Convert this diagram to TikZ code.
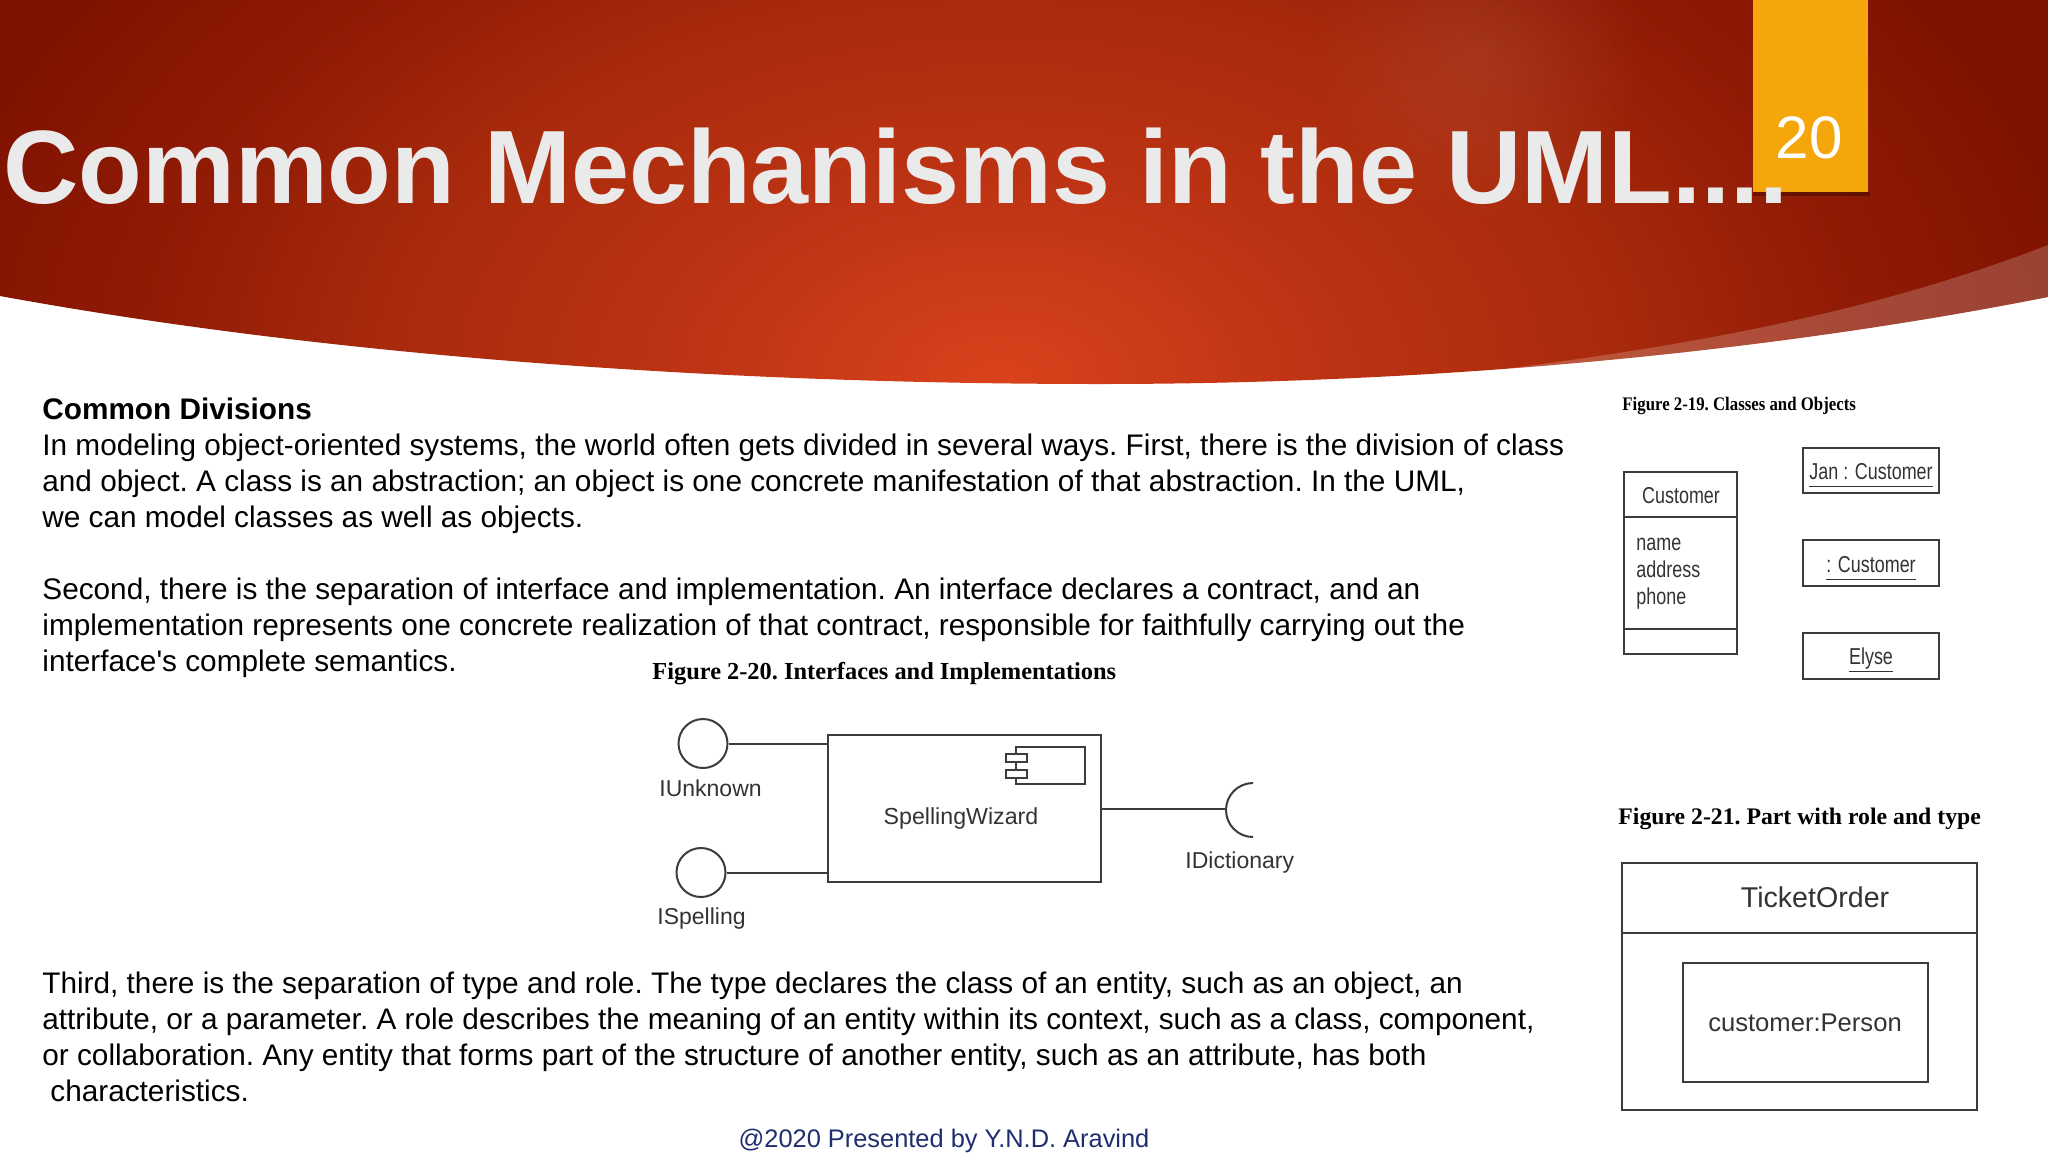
\documentclass[tikz,border=0pt]{standalone}
\usepackage{fontspec}
\setmainfont{Liberation Sans}
\newfontfamily\serifcap{Liberation Serif}
\newfontfamily\serifnarrow[FakeStretch=0.875]{Liberation Serif}
\newfontfamily\sansnarrow[FakeStretch=0.78]{Liberation Sans}
\usetikzlibrary{fadings}
\definecolor{glowa}{HTML}{D9431C}
\definecolor{glowb}{HTML}{BE3414}
\definecolor{glowc}{HTML}{A82A0C}
\definecolor{glowd}{HTML}{921C06}
\definecolor{glowe}{HTML}{7F1200}
\definecolor{tabcolor}{HTML}{F5A60A}
\definecolor{titlecolor}{HTML}{EAEAEA}
\definecolor{footcolor}{HTML}{1F2E6E}
\definecolor{umlline}{HTML}{3C3C3C}
\definecolor{umltext}{HTML}{333333}
\pgfdeclareradialshading{bannerglow}{\pgfpointorigin}{color(0bp)=(glowa); color(7bp)=(glowb); color(14bp)=(glowc); color(19bp)=(glowd); color(25bp)=(glowe); color(50bp)=(glowe)}
\tikzfading[name=softglow, inner color=transparent!0, outer color=transparent!100]
\newcommand{\objname}[1]{\underline{\vphantom{y}#1}}
\tikzset{
  bodyline/.style={anchor=base west, inner sep=0pt, font=\frenchspacing\fontsize{14.88}{17}\selectfont},
  figcap/.style={anchor=base west, inner sep=0pt, font=\frenchspacing\serifcap\bfseries\fontsize{#1}{12}\selectfont},
  umlbox/.style={draw=umlline, line width=1pt, inner sep=0pt},
  umllabel/.style={anchor=base, inner sep=0pt, text=umltext, font=\fontsize{#1}{12}\selectfont},
  narrowlabel/.style={anchor=base, inner sep=0pt, text=umltext, font=\sansnarrow\fontsize{11.5}{12}\selectfont},
  iface/.style={circle, draw=umlline, line width=1pt, minimum size=24.5pt, inner sep=0pt},
  umlwire/.style={draw=umlline, line width=1pt}
}
\begin{document}
\begin{tikzpicture}[x=0.5pt, y=-0.5pt]
  \useasboundingbox (0,0) rectangle (2048,1152);
  \begin{scope}
    \clip (0,0) -- (2048,0) -- (2048,297) .. controls (1780,350) and (1450,384) .. (1100,384)
      .. controls (750,384) and (350,360) .. (0,296) -- cycle;
    \shade[shading=bannerglow] (-100,-316) rectangle (2100,1084);
    \fill[white, opacity=0.08, path fading=softglow] (1480,55) circle (170);
    \fill[white, opacity=0.2] (2048,245) .. controls (1880,310) and (1700,345) .. (1480,372)
      -- (1480,400) -- (2048,400) -- cycle;
  \end{scope}
  \fill[black, opacity=0.3] (1753,192) rectangle (1870,196);
  \node[fill=tabcolor, minimum width=57.5pt, minimum height=96pt, inner sep=0pt] (tab) at (1810.5,96) {};
  \node[anchor=base, inner sep=0pt, text=white, font=\fontsize{30}{36}\selectfont] (pagenum) at (1809,158) {20};
  \node[anchor=base west, inner sep=0pt, text=titlecolor, font=\bfseries\fontsize{52.15}{60}\selectfont] (title) at (3,203) {Common Mechanisms in the UML....};

  \node[bodyline] (lineA) at (42,419) {\bfseries Common Divisions};
  \node[bodyline] (lineB) at (42,455) {In modeling object-oriented systems, the world often gets divided in several ways. First, there is the division of class};
  \node[bodyline] (lineC) at (42,491) {and object. A class is an abstraction; an object is one concrete manifestation of that abstraction. In the UML,};
  \node[bodyline] (lineD) at (42,527) {we can model classes as well as objects.};
  \node[bodyline] (lineE) at (42,599) {Second, there is the separation of interface and implementation. An interface declares a contract, and an};
  \node[bodyline] (lineF) at (42,635) {implementation represents one concrete realization of that contract, responsible for faithfully carrying out the};
  \node[bodyline] (lineG) at (42,671) {interface\textquotesingle s complete semantics.};
  \node[bodyline] (lineH) at (42,993) {Third, there is the separation of type and role. The type declares the class of an entity, such as an object, an};
  \node[bodyline] (lineI) at (42,1029) {attribute, or a parameter. A role describes the meaning of an entity within its context, such as a class, component,};
  \node[bodyline] (lineJ) at (42,1065) {or collaboration. Any entity that forms part of the structure of another entity, such as an attribute, has both};
  \node[bodyline] (lineK) at (50,1101) {characteristics.};
  \node[anchor=base, inner sep=0pt, text=footcolor, font=\frenchspacing\fontsize{12.7}{16}\selectfont] (footer) at (944,1147) {@2020 Presented by Y.N.D. Aravind};

  \node[figcap=12.2] (capA) at (652,679) {Figure 2-20. Interfaces and Implementations};
  \node[umlbox, minimum width=136.5pt, minimum height=73.5pt] (wizard) at (964.5,808.5) {};
  \node[umlbox, minimum width=34.5pt, minimum height=18.5pt] (mini) at (1050.5,765.5) {};
  \node[umlbox, fill=white, minimum width=10.5pt, minimum height=4pt] (miniA) at (1016.5,758) {};
  \node[umlbox, fill=white, minimum width=10.5pt, minimum height=4pt] (miniB) at (1016.5,773.5) {};
  \node[umllabel=11.6] (wizardname) at (961,824) {SpellingWizard};
  \node[iface] (unknown) at (703,743.5) {};
  \node[iface] (spelling) at (701,872.5) {};
  \draw[umlwire] (unknown.east) -- (unknown.east -| wizard.west);
  \draw[umlwire] (spelling.east) -- (spelling.east -| wizard.west);
  \node[umllabel=11.5, anchor=base west] (unknownname) at (659,796) {IUnknown};
  \node[umllabel=11.5, anchor=base west] (spellingname) at (657,924) {ISpelling};
  \coordinate (socket) at (1227,809);
  \draw[umlwire] (wizard.east |- socket) -- (socket);
  \draw[umlwire] (1253,783) arc[start angle=-90, end angle=-270, radius=27];
  \node[umllabel=11.5, anchor=base west] (dictionaryname) at (1185,868) {IDictionary};

  \node[anchor=base west, inner sep=0pt, font=\frenchspacing\serifnarrow\bfseries\fontsize{9.6}{12}\selectfont] (capB) at (1622,410) {Figure 2-19. Classes and Objects};
  \node[umlbox, minimum width=56.5pt, minimum height=22.5pt] (classname) at (1680.5,494.5) {};
  \node[umlbox, minimum width=56.5pt, minimum height=56pt] (classattrs) at (1680.5,573) {};
  \node[umlbox, minimum width=56.5pt, minimum height=12.5pt] (classops) at (1680.5,641.5) {};
  \node[narrowlabel] (classtext) at (1681,503) {Customer};
  \node[narrowlabel, anchor=base west] (attrA) at (1636,550) {name};
  \node[narrowlabel, anchor=base west] (attrB) at (1636,577) {address};
  \node[narrowlabel, anchor=base west] (attrC) at (1636,604) {phone};
  \node[umlbox, minimum width=68pt, minimum height=22.5pt] (objA) at (1871,470.5) {};
  \node[umlbox, minimum width=68pt, minimum height=23pt] (objB) at (1871,563) {};
  \node[umlbox, minimum width=68pt, minimum height=23pt] (objC) at (1871,656) {};
  \node[narrowlabel] (objAtext) at (1871,479) {\objname{Jan : Customer}};
  \node[narrowlabel] (objBtext) at (1871,572) {\objname{: Customer}};
  \node[narrowlabel] (objCtext) at (1871,664) {\objname{Elyse}};

  \node[figcap=11.87] (capC) at (1618,824) {Figure 2-21. Part with role and type};
  \node[umlbox, minimum width=177.5pt, minimum height=35pt] (ordertop) at (1799.5,898) {};
  \node[umlbox, minimum width=177.5pt, minimum height=88.5pt] (orderbody) at (1799.5,1021.5) {};
  \node[umlbox, minimum width=122.5pt, minimum height=59.5pt] (person) at (1805.5,1022.5) {};
  \node[umllabel=14.3] (ordername) at (1815,907) {TicketOrder};
  \node[umllabel=12.8] (personname) at (1805,1031) {customer:Person};
\end{tikzpicture}
\end{document}
